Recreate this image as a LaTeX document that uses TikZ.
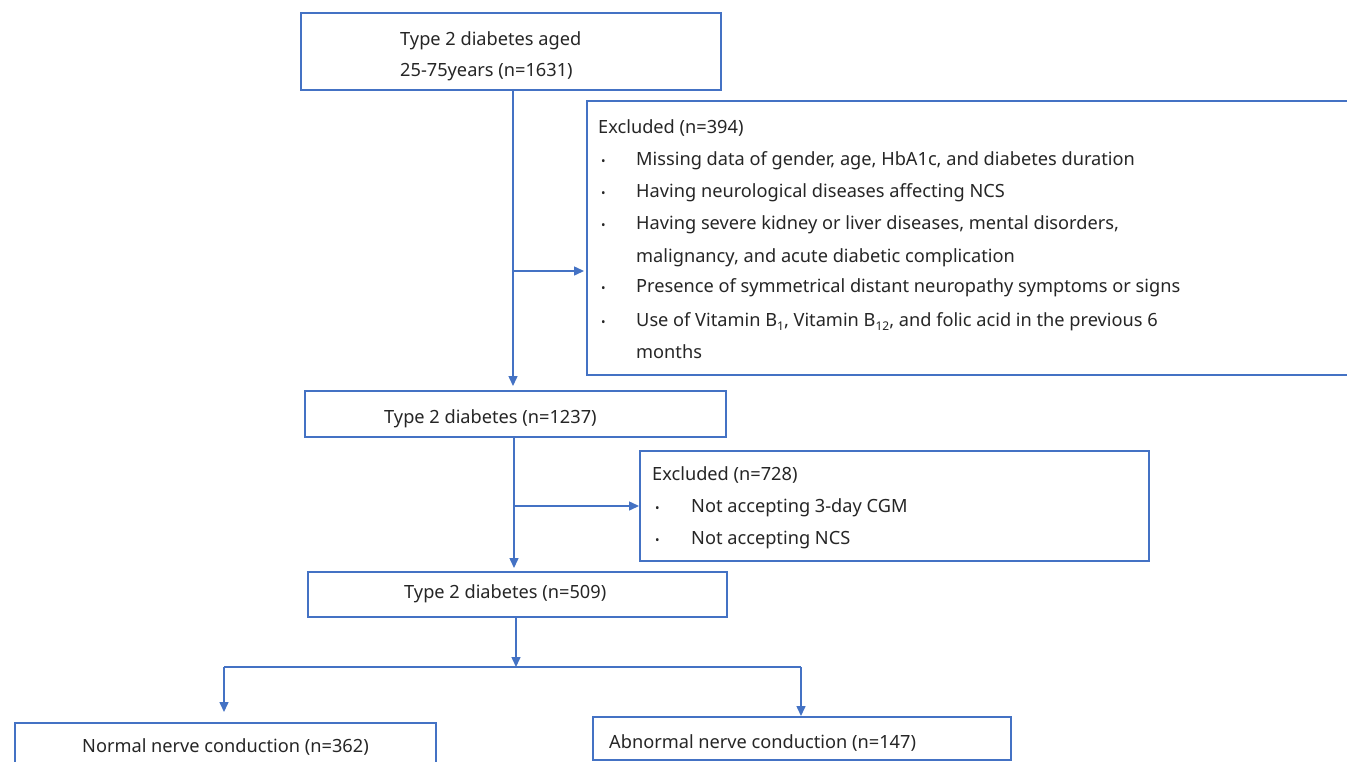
\documentclass[tikz,border=0pt]{standalone}
\usepackage{fontspec}
\setmainfont{Noto Sans}
\usetikzlibrary{arrows.meta}
\definecolor{lineblue}{HTML}{4472C4}
\definecolor{txtgray}{HTML}{262626}
\newcommand{\lowsub}[1]{\raisebox{-4.5pt}{\fontsize{12}{14}\selectfont #1}}
\begin{document}
\begin{tikzpicture}[x=1pt,y=-1pt,
  box/.style={draw=lineblue, line width=1.5pt, anchor=north west, inner sep=0pt},
  txt/.style={font=\fontsize{18.2}{22}\selectfont, text=txtgray, anchor=base west, inner sep=0pt},
  bul/.style={font=\fontsize{12}{14}\selectfont, text=txtgray, anchor=base west, inner sep=0pt},
  line/.style={draw=lineblue, line width=1.5pt},
  arr/.style={line, -{Triangle[length=10pt,width=9pt]}}]
\useasboundingbox (0,0) rectangle (1347,761);
\clip (0,0) rectangle (1347,761);
\fill[white] (0,0) rectangle (1347,761);
% boxes
\node[box, minimum width=420pt, minimum height=77pt] (b1) at (300,12) {};
\node[box, minimum width=774pt, minimum height=274pt] (e1) at (586,100) {};
\node[box, minimum width=421pt, minimum height=46pt] (b2) at (304,390) {};
\node[box, minimum width=509pt, minimum height=110pt] (e2) at (639,450) {};
\node[box, minimum width=419pt, minimum height=45pt] (b3) at (307,571) {};
\node[box, minimum width=421pt, minimum height=60pt] (n1) at (14,722) {};
\node[box, minimum width=418pt, minimum height=43pt] (n2) at (592,716) {};
% texts
\node[txt] (t1a) at (400,45) {Type 2 diabetes aged};
\node[txt] (t1b) at (400,76) {25-75years (n=1631)};
\node[txt] (te1) at (598,133) {Excluded (n=394)};
\node[bul] (u1) at (601,165) {•};
\node[txt] (te1a) at (636,165) {Missing data of gender, age, HbA1c, and diabetes duration};
\node[bul] (u2) at (601,197) {•};
\node[txt] (te1b) at (636,197) {Having neurological diseases affecting NCS};
\node[bul] (u3) at (601,229) {•};
\node[txt] (te1c) at (636,229) {Having severe kidney or liver diseases, mental disorders,};
\node[txt] (te1d) at (636,262) {malignancy, and acute diabetic complication};
\node[bul] (u4) at (601,292) {•};
\node[txt] (te1e) at (636,292) {Presence of symmetrical distant neuropathy symptoms or signs};
\node[bul] (u5) at (601,326) {•};
\node[txt] (te1f) at (636,326) {Use of Vitamin B\lowsub{1}, Vitamin B\lowsub{12}, and folic acid in the previous 6};
\node[txt] (te1g) at (636,358) {months};
\node[txt] (t2) at (384,423) {Type 2 diabetes (n=1237)};
\node[txt] (te2) at (652,480) {Excluded (n=728)};
\node[bul] (v1) at (655,512) {•};
\node[txt] (te2a) at (691,512) {Not accepting 3-day CGM};
\node[bul] (v2) at (655,544) {•};
\node[txt] (te2b) at (691,544) {Not accepting NCS};
\node[txt] (t3) at (404,598) {Type 2 diabetes (n=509)};
\node[txt] (tn1) at (82,752) {Normal nerve conduction (n=362)};
\node[txt] (tn2) at (609,748) {Abnormal nerve conduction (n=147)};
% junctions
\coordinate (j1) at (513,271);
\coordinate (j2) at (514,506);
\coordinate (j3) at (516,667);
\coordinate (jl) at (224,667);
\coordinate (jr) at (801,667);
% connectors
\draw[arr, shorten >=4pt] (b1.south -| j1) -- (b2.north -| j1);
\draw[arr, shorten >=2pt] (j1) -- (j1 -| e1.west);
\draw[arr, shorten >=3pt] (b2.south -| j2) -- (b3.north -| j2);
\draw[arr] (j2) -- (j2 -| e2.west);
\draw[arr] (b3.south -| j3) -- (j3);
\draw[line] (jl) -- (jr);
\draw[arr, shorten >=10pt] (jl) -- (jl |- n1.north);
\draw[arr] (jr) -- (jr |- n2.north);
\end{tikzpicture}
\end{document}
